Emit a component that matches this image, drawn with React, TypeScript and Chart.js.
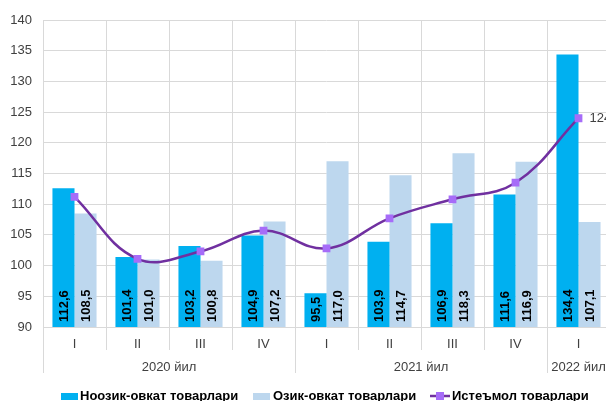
import React, { useEffect, useRef } from "react";
import { Chart, registerables } from "chart.js";

Chart.register(...registerables);

const categories = ["I", "II", "III", "IV", "I", "II", "III", "IV", "I"];
const years = ["2020 йил", "2021 йил", "2022 йил"];
const yearSpans = [4, 4, 1];
const nonFood = [112.6, 101.4, 103.2, 104.9, 95.5, 103.9, 106.9, 111.6, 134.4];
const food = [108.5, 101.0, 100.8, 107.2, 117.0, 114.7, 118.3, 116.9, 107.1];
const consumer = [111.2, 101.1, 102.3, 105.7, 102.8, 107.7, 110.8, 113.5, 124.0];
const lastLabel = "124,0";
const seriesNames = ["Ноозик-овкат товарлари", "Озик-овкат товарлари", "Истеъмол товарлари"];
const yMin = 90;
const yMax = 140;
const yStep = 5;

const C_DARK = "#00B0F0";
const C_LIGHT = "#BDD7EE";
const C_LINE = "#7030A0";
const C_MARK = "#A66CF8";
const C_GRID = "#D9D9D9";
const C_TEXT = "#404040";
const FONT = "'Liberation Sans', Arial, sans-serif";

const fmt = (v: number) => v.toFixed(1).replace(".", ",");

const extrasPlugin = {
  id: "extras",
  afterDatasetsDraw(chart: any) {
    const ctx = chart.ctx;
    const x = chart.scales.x;
    const y = chart.scales.y;
    const area = chart.chartArea;
    const n = categories.length;
    const cw = (area.right - area.left) / n;

    // bar value labels (rotated)
    ctx.save();
    ctx.fillStyle = "#000";
    ctx.font = `bold 13px ${FONT}`;
    ctx.textBaseline = "middle";
    ctx.textAlign = "left";
    [0, 1].forEach((di) => {
      const meta = chart.getDatasetMeta(di);
      const data = di === 0 ? nonFood : food;
      meta.data.forEach((bar: any, i: number) => {
        ctx.save();
        ctx.translate(bar.x, y.getPixelForValue(yMin) - 5);
        ctx.rotate(-Math.PI / 2);
        ctx.fillText(fmt(data[i]), 0, 1);
        ctx.restore();
      });
    });
    ctx.restore();

    // last line label
    const lm = chart.getDatasetMeta(2);
    const lp = lm.data[lm.data.length - 1];
    ctx.save();
    ctx.fillStyle = C_TEXT;
    ctx.font = `13px ${FONT}`;
    ctx.textBaseline = "middle";
    ctx.textAlign = "left";
    ctx.fillText(lastLabel, lp.x + 11, lp.y);
    ctx.restore();

    // x axis extended separators
    ctx.save();
    ctx.strokeStyle = C_GRID;
    ctx.lineWidth = 1;
    const yearBounds = new Set<number>();
    let acc = 0;
    yearBounds.add(0);
    yearSpans.forEach((s) => {
      acc += s;
      yearBounds.add(acc);
    });
    for (let i = 0; i <= n; i++) {
      const bx = Math.round(area.left + i * cw) + 0.5;
      const endY = yearBounds.has(i) ? area.bottom + 46 : area.bottom + 23;
      ctx.beginPath();
      ctx.moveTo(bx, area.bottom);
      ctx.lineTo(bx, endY);
      ctx.stroke();
    }
    ctx.restore();

    // year labels
    ctx.save();
    ctx.fillStyle = C_TEXT;
    ctx.font = `13px ${FONT}`;
    ctx.textAlign = "center";
    ctx.textBaseline = "alphabetic";
    let start = 0;
    years.forEach((yl, k) => {
      const cx = area.left + (start + yearSpans[k] / 2) * cw;
      ctx.fillText(yl, cx, area.bottom + 44);
      start += yearSpans[k];
    });
    ctx.restore();

    // legend
    ctx.save();
    ctx.font = `bold 13px ${FONT}`;
    ctx.textBaseline = "alphabetic";
    ctx.textAlign = "left";
    const ly = 400;
    ctx.fillStyle = C_DARK;
    ctx.fillRect(61, 393, 17, 7);
    ctx.fillStyle = "#000";
    ctx.fillText(seriesNames[0], 80, ly);
    ctx.fillStyle = C_LIGHT;
    ctx.fillRect(253, 393, 17, 7);
    ctx.fillStyle = "#000";
    ctx.fillText(seriesNames[1], 273, ly);
    ctx.strokeStyle = C_LINE;
    ctx.lineWidth = 2.5;
    ctx.beginPath();
    ctx.moveTo(430, 396);
    ctx.lineTo(450, 396);
    ctx.stroke();
    ctx.fillStyle = C_MARK;
    ctx.fillRect(436, 392, 8, 8);
    ctx.fillStyle = "#000";
    ctx.fillText(seriesNames[2], 452, ly);
    ctx.restore();
  },
};

export default function App() {
  const ref = useRef<HTMLCanvasElement | null>(null);
  useEffect(() => {
    if (!ref.current) return;
    const chart = new Chart(ref.current, {
      type: "bar",
      data: {
        labels: categories,
        datasets: [
          {
            type: "bar",
            label: seriesNames[0],
            data: nonFood,
            backgroundColor: C_DARK,
            categoryPercentage: 0.7,
            barPercentage: 1.0,
            order: 2,
          },
          {
            type: "bar",
            label: seriesNames[1],
            data: food,
            backgroundColor: C_LIGHT,
            categoryPercentage: 0.7,
            barPercentage: 1.0,
            order: 2,
          },
          {
            type: "line",
            label: seriesNames[2],
            data: consumer,
            borderColor: C_LINE,
            borderWidth: 2.5,
            tension: 0.4,
            pointStyle: "rect",
            pointRadius: 5.5,
            pointBackgroundColor: C_MARK,
            pointBorderColor: C_MARK,
            pointBorderWidth: 0,
            order: 1,
          } as any,
        ],
      },
      options: {
        responsive: false,
        animation: false,
        devicePixelRatio: 1,
        layout: { padding: { left: 0, right: 30, top: 20, bottom: 0 } },
        plugins: {
          legend: { display: false },
          tooltip: { enabled: false },
        },
        scales: {
          x: {
            offset: true,
            grid: { offset: true, color: C_GRID, lineWidth: 1, drawTicks: false },
            border: { display: false },
            ticks: { color: C_TEXT, font: { family: FONT, size: 13 }, padding: 10 },
            afterFit: (s: any) => {
              s.height = 74;
            },
          },
          y: {
            min: yMin,
            max: yMax,
            grid: { color: C_GRID, lineWidth: 1, drawTicks: false },
            border: { display: false },
            ticks: {
              stepSize: yStep,
              color: C_TEXT,
              font: { family: FONT, size: 13 },
              padding: 11,
            },
            afterFit: (s: any) => {
              s.width = 43;
            },
          },
        },
      },
      plugins: [extrasPlugin],
    });
    return () => chart.destroy();
  }, []);
  return (
    <div style={{ position: "absolute", left: 0, top: 0, width: 606, height: 401, overflow: "hidden", background: "#fff" }}>
      <canvas ref={ref} width={640} height={401} style={{ display: "block" }} />
    </div>
  );
}
